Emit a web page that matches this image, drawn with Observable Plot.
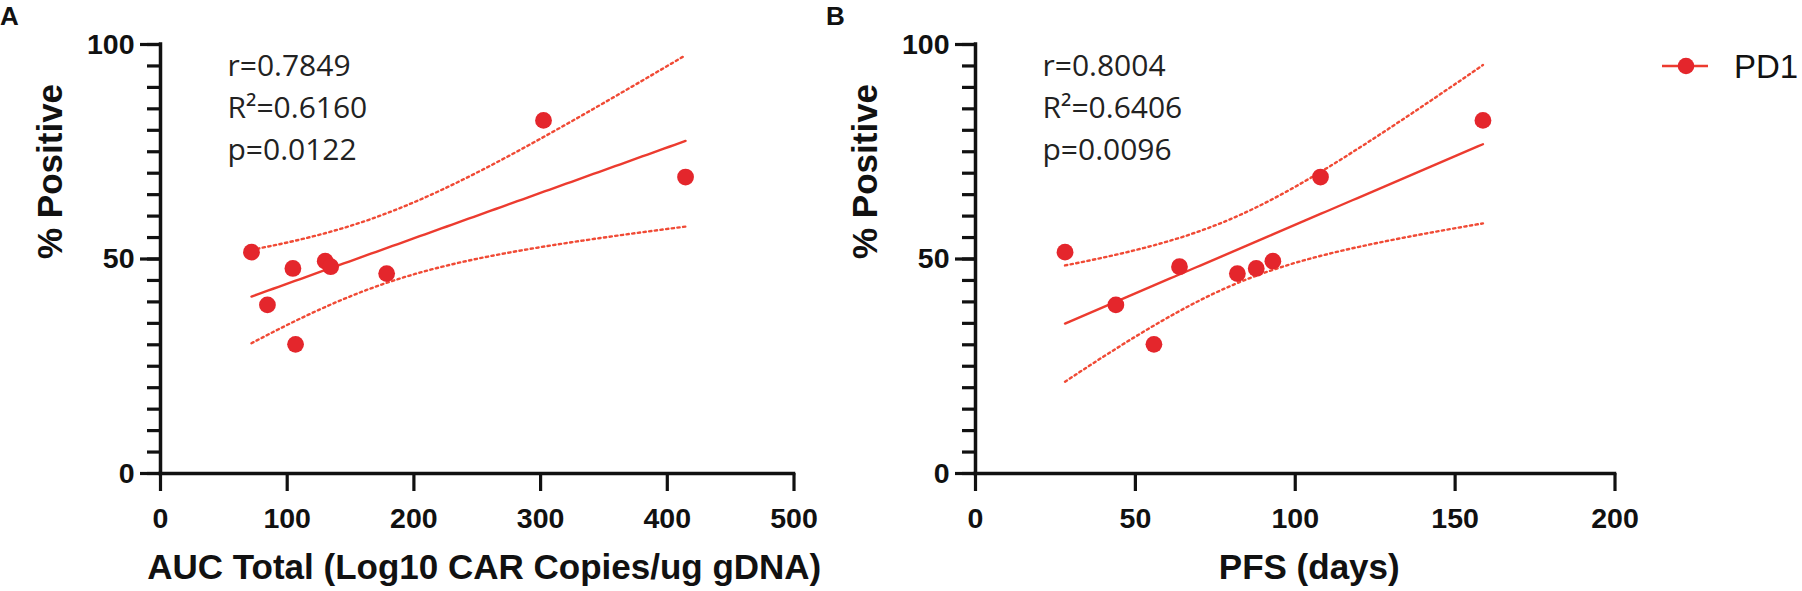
<!DOCTYPE html>
<html><head><meta charset="utf-8">
<script src="https://cdn.jsdelivr.net/npm/d3@7"></script>
<script src="https://cdn.jsdelivr.net/npm/@observablehq/plot@0.6"></script>
<style>
body{margin:0;background:#fff;}
#wrap{position:relative;width:1802px;height:591px;overflow:hidden;background:#fff;}
.panel{position:absolute;top:0;}
#overlay{position:absolute;left:0;top:0;}
</style></head><body>
<div id="wrap"></div>
<script>
// ---- data ----
const pctPositive = [51.6, 47.8, 39.3, 30.1, 49.5, 48.2, 46.6, 82.3, 69.1];
const aucTotal    = [71.8, 104.5, 84.4, 106.6, 130.0, 134.3, 178.5, 302.3, 414.4];
const pfsDays     = [28.0, 87.8, 43.9, 55.8, 93.0, 63.8, 81.9, 158.7, 107.9];
const statsA = ["r=0.7849", "R²=0.6160", "p=0.0122"];
const statsB = ["r=0.8004", "R²=0.6406", "p=0.0096"];
const xTicksA = [0, 100, 200, 300, 400, 500];
const xTicksB = [0, 50, 100, 150, 200];
const yTicks = [0, 50, 100];
const yMinorTicks = [0,5,10,15,20,25,30,35,40,45,50,55,60,65,70,75,80,85,90,95,100];
const seriesName = "PD1";
const panelLetters = ["A", "B"];

const RED = "#e4262c";
const LINE_RED = "#ec3b2f";
const DOT_RED = "#f04a35";
const INK = "#111";
const BOLD = "'Liberation Sans', Arial, Helvetica, sans-serif";

// linear fit with 95% confidence band (t, df = n-2 = 7)
function fitBands(xs, ys, tCrit = 2.3646, steps = 80) {
  const n = xs.length, mx = d3.mean(xs), my = d3.mean(ys);
  let sxx = 0, sxy = 0;
  for (let i = 0; i < n; i++) { sxx += (xs[i]-mx)**2; sxy += (xs[i]-mx)*(ys[i]-my); }
  const b = sxy / sxx, a = my - b * mx;
  let sse = 0;
  for (let i = 0; i < n; i++) sse += (ys[i] - (a + b*xs[i]))**2;
  const s = Math.sqrt(sse / (n - 2));
  const [x0, x1] = d3.extent(xs);
  return d3.range(steps + 1).map(k => {
    const x = x0 + (x1 - x0) * k / steps;
    const f = a + b * x;
    const se = s * Math.sqrt(1/n + (x - mx)**2 / sxx);
    return {x, fit: f, lo: f - tCrit*se, hi: f + tCrit*se};
  });
}

function panel({xs, xLabel, xDomain, xTicks, stats, width, marginRight, xLabelDx}) {
  const H = 591, mL = 160, mT = 44, mB = 118;
  const fw = width - mL - marginRight, fh = H - mT - mB;
  const data = xs.map((x, i) => ({x, y: pctPositive[i]}));
  const band = fitBands(xs, pctPositive);
  return Plot.plot({
    width, height: H,
    marginLeft: mL, marginRight, marginTop: mT, marginBottom: mB,
    style: {background: "transparent", overflow: "visible", fontFamily: BOLD, color: INK},
    x: {domain: xDomain, axis: null},
    y: {domain: [0, 100], axis: null},
    marks: [
      // y ticks (minor + major), drawn outside the frame on the left
      Plot.tickY(yMinorTicks, {y: d => d, dx: -13, insetRight: fw - 13, stroke: INK, strokeWidth: 3.2}),
      Plot.tickY(yTicks, {y: d => d, dx: -20, insetRight: fw - 20, stroke: INK, strokeWidth: 3.2}),
      Plot.text(yTicks, {y: d => d, text: d => String(d), frameAnchor: "left", dx: -26, textAnchor: "end",
        fontSize: 28.5, fontWeight: "bold", fill: INK}),
      // x ticks below the frame
      Plot.tickX(xTicks, {x: d => d, dy: 18, insetTop: fh - 18, stroke: INK, strokeWidth: 3.2}),
      Plot.text(xTicks, {x: d => d, text: d => String(d), frameAnchor: "bottom", dy: 34, lineAnchor: "top",
        fontSize: 28.5, fontWeight: "bold", fill: INK}),
      // axis lines
      Plot.ruleX([0], {y1: 0, y2: 100, strokeWidth: 3.5, stroke: INK, strokeLinecap: "square"}),
      Plot.ruleY([0], {x1: xDomain[0], x2: xDomain[1], strokeWidth: 3.5, stroke: INK, strokeLinecap: "square"}),
      // regression + 95% CI
      Plot.line(band, {x: "x", y: "hi", stroke: DOT_RED, strokeWidth: 2.4, strokeDasharray: "2.3 3.4"}),
      Plot.line(band, {x: "x", y: "lo", stroke: DOT_RED, strokeWidth: 2.4, strokeDasharray: "2.3 3.4"}),
      Plot.line(band, {x: "x", y: "fit", stroke: LINE_RED, strokeWidth: 2.4}),
      Plot.dot(data, {x: "x", y: "y", r: 8.4, fill: RED, stroke: "none"}),
      // stats
      Plot.text([stats.join("\n")], {frameAnchor: "top-left", dx: 67, dy: 2, lineAnchor: "top", textAnchor: "start",
        lineHeight: 1.4, fontSize: 30, fontFamily: "'Open Sans', 'Noto Sans', sans-serif", fill: "#222"}),
      // axis titles
      Plot.text(["% Positive"], {frameAnchor: "left", dx: -110, rotate: -90, fontSize: 35, fontWeight: "bold", fill: INK}),
      Plot.text([xLabel], {frameAnchor: "bottom", dy: 105, dx: xLabelDx, lineAnchor: "bottom", fontSize: 35, fontWeight: "bold", fill: INK})
    ]
  });
}

const wrap = document.getElementById("wrap");

const pA = panel({xs: aucTotal, xLabel: "AUC Total (Log10 CAR Copies/ug gDNA)", xDomain: [0, 500], xTicks: xTicksA,
  stats: statsA, width: 820, marginRight: 26.5, xLabelDx: 7});
pA.classList.add("panel"); pA.style.left = "0px";
wrap.appendChild(pA);

const pB = panel({xs: pfsDays, xLabel: "PFS (days)", xDomain: [0, 200], xTicks: xTicksB,
  stats: statsB, width: 820, marginRight: 20.5, xLabelDx: 14});
pB.classList.add("panel"); pB.style.left = "815px";
wrap.appendChild(pB);

// overlay: panel letters + legend
const ov = d3.select(wrap).append("svg").attr("id", "overlay").attr("width", 1802).attr("height", 591);
ov.selectAll("text.letter").data(panelLetters).join("text")
  .attr("x", (d, i) => i === 0 ? 0 : 826).attr("y", 25)
  .attr("font-family", BOLD).attr("font-weight", "bold").attr("font-size", 26).attr("fill", INK)
  .text(d => d);
const lg = ov.append("g");
lg.append("line").attr("x1", 1662).attr("x2", 1708).attr("y1", 66).attr("y2", 66).attr("stroke", LINE_RED).attr("stroke-width", 2.4);
lg.append("circle").attr("cx", 1686).attr("cy", 66).attr("r", 8.3).attr("fill", RED);
lg.append("text").attr("x", 1734).attr("y", 78).attr("font-family", "'Liberation Sans', Arial, sans-serif")
  .attr("font-size", 33).attr("fill", INK).text(seriesName);
</script>
</body></html>
